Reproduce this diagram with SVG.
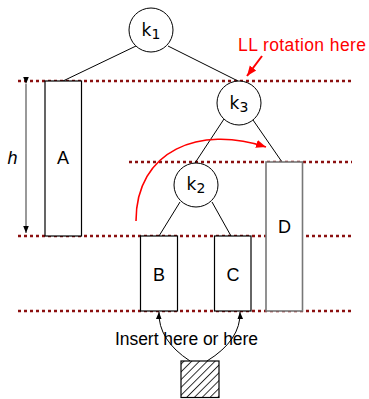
<svg xmlns="http://www.w3.org/2000/svg" width="369" height="399" viewBox="0 0 369 399">
<style>
.dot{stroke:#8b1010;stroke-width:2.5;stroke-dasharray:3 3;fill:none}
.ln{stroke:#000;stroke-width:1;fill:none}
.box{stroke:#000;stroke-width:1.2;fill:#fff}
.nd{stroke:#000;stroke-width:1;fill:#fff}
.lbl{font-family:"Liberation Sans",Arial,sans-serif;font-size:18px;fill:#000;text-anchor:middle}
.key{font-family:"DejaVu Sans",sans-serif;font-size:17px;fill:#000;text-anchor:middle}
.red{font-family:"Liberation Sans",Arial,sans-serif;font-size:17.5px;fill:#ff0000}
</style>
<defs>
<marker id="ah" viewBox="0 0 10 10" refX="10" refY="5" markerWidth="7" markerHeight="7" orient="auto" markerUnits="userSpaceOnUse"><path d="M0,1 L10,5 L0,9 Z" fill="#000"/></marker>
<marker id="ahr" viewBox="0 0 10 10" refX="10" refY="5" markerWidth="10" markerHeight="10" orient="auto" markerUnits="userSpaceOnUse"><path d="M0,1 L10,5 L0,9 Z" fill="#ff0000"/></marker>
<pattern id="hatch" patternUnits="userSpaceOnUse" width="5.5" height="5.5" patternTransform="rotate(45)"><rect width="5.5" height="5.5" fill="#fff"/><line x1="0.5" y1="0" x2="0.5" y2="5.5" stroke="#000" stroke-width="0.8"/></pattern>
</defs>
<g id="levels">
<line class="dot" x1="18" y1="81" x2="352" y2="81"/>
<line class="dot" x1="129" y1="162" x2="352" y2="162"/>
<line class="dot" x1="18" y1="236" x2="352" y2="236"/>
<line class="dot" x1="18" y1="311" x2="352" y2="311"/>
</g>
<g id="connectors">
<line class="ln" x1="136" y1="46" x2="63" y2="81"/>
<line class="ln" x1="168" y1="46" x2="238" y2="81"/>
<line class="ln" x1="224" y1="119" x2="195" y2="163"/>
<line class="ln" x1="253" y1="120" x2="282" y2="162"/>
<line class="ln" x1="180" y1="202" x2="159" y2="236"/>
<line class="ln" x1="212" y1="202" x2="231" y2="236"/>
<path class="ln" d="M190,361 Q158,340 159,312" marker-end="url(#ah)"/>
<path class="ln" d="M207,361 Q241,340 240,312" marker-end="url(#ah)"/>
<path d="M136,221 C136,150 200,125 266,147" stroke="#ff0000" stroke-width="1.6" fill="none" marker-end="url(#ahr)"/>
<line x1="262" y1="56" x2="247" y2="76" stroke="#ff0000" stroke-width="2" marker-end="url(#ahr)"/>
<line x1="26" y1="84" x2="26" y2="233" stroke="#555" stroke-width="1.2" marker-start="url(#ah)" marker-end="url(#ah)"/>
</g>
<g id="k1"><circle class="nd" cx="151" cy="30" r="22"/><text class="key" x="151" y="36">k<tspan font-size="14" dy="3">1</tspan></text></g>
<g id="k3"><circle class="nd" cx="239" cy="103" r="22"/><text class="key" x="239" y="109">k<tspan font-size="14" dy="3">3</tspan></text></g>
<g id="k2"><circle class="nd" cx="196" cy="185" r="22"/><text class="key" x="196" y="190">k<tspan font-size="14" dy="3">2</tspan></text></g>
<g id="A"><rect class="box" x="45" y="81" width="36.5" height="155"/><text class="lbl" x="63" y="163.5">A</text></g>
<g id="B"><rect class="box" x="140.5" y="236" width="37" height="75"/><text class="lbl" x="159" y="280.5">B</text></g>
<g id="C"><rect class="box" x="214.5" y="236" width="36.5" height="75"/><text class="lbl" x="233" y="280.5">C</text></g>
<g id="D"><rect x="266" y="162" width="36.5" height="149" fill="#fff" stroke="#777" stroke-width="1.6"/><text class="lbl" x="284.5" y="232.5">D</text></g>
<g id="new"><rect x="181" y="361" width="38" height="36.5" fill="url(#hatch)" stroke="#000" stroke-width="1.2"/></g>
<g id="labels">
<text x="12.5" y="163.5" font-family="Liberation Sans,Arial,sans-serif" font-size="18" font-style="italic" text-anchor="middle">h</text>
<text class="red" x="238" y="50.7" textLength="128">LL rotation here</text>
<text x="115" y="345" font-family="Liberation Sans,Arial,sans-serif" font-size="17.5" textLength="143">Insert here or here</text>
</g>
</svg>
